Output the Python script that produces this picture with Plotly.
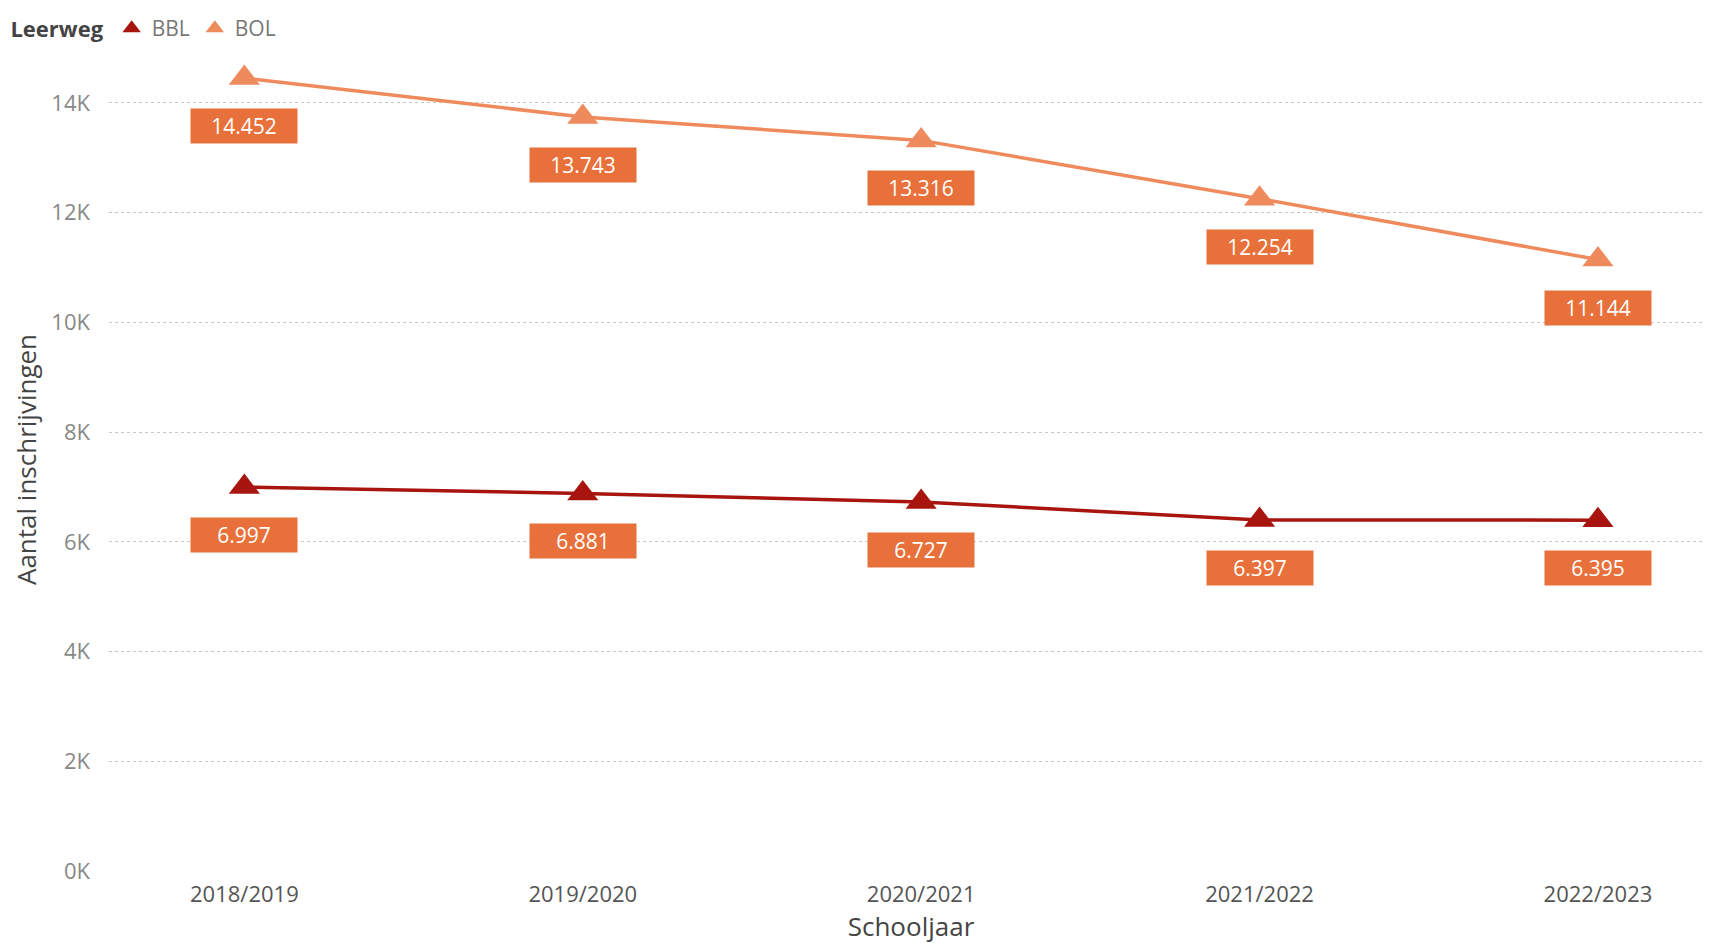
import plotly.graph_objects as go

categories = ["2018/2019", "2019/2020", "2020/2021", "2021/2022", "2022/2023"]
bbl = [6997, 6881, 6727, 6397, 6395]
bol = [14452, 13743, 13316, 12254, 11144]
ytick_vals = [0, 2000, 4000, 6000, 8000, 10000, 12000, 14000]
ytick_text = ["0K", "2K", "4K", "6K", "8K", "10K", "12K", "14K"]

C_BBL = "#A8150F"
C_BOL = "#EF8A5C"
C_LABEL = "#E8703A"
FONT = "Open Sans, Segoe UI, sans-serif"

W, H = 1713, 943
ML, MR, MT, MB = 101, 8, 40, 80

fig = go.Figure()
x_idx = list(range(len(categories)))
for name, vals, col in (("BBL", bbl, C_BBL), ("BOL", bol, C_BOL)):
    fig.add_trace(go.Scatter(x=x_idx, y=vals, name=name, mode="lines+markers",
                             line=dict(color=col, width=3.5), showlegend=False,
                             marker=dict(symbol="triangle-up", size=27, color=col)))
    fig.add_trace(go.Scatter(x=[None], y=[None], name=name, mode="markers",
                             marker=dict(symbol="triangle-up", size=20, color=col)))

def fmt(v):
    return f"{v:,}".replace(",", ".")

for series in (bbl, bol):
    for i, v in enumerate(series):
        fig.add_annotation(x=i, y=v, text=fmt(v), showarrow=False,
                           yshift=-48, bgcolor=C_LABEL, borderpad=0,
                           width=106, height=34,
                           font=dict(family=FONT, size=21, color="white"))

fig.update_layout(
    width=W, height=H,
    margin=dict(l=ML, r=MR, t=MT, b=MB, autoexpand=False),
    plot_bgcolor="white", paper_bgcolor="white",
    font=dict(family=FONT),
    showlegend=True,
    legend=dict(orientation="h", x=-0.0627, xanchor="left", y=1.0486, yanchor="top",
                title=dict(text="<b>Leerweg</b>", font=dict(size=22, color="#444")),
                font=dict(size=21, color="#777"), itemwidth=30,
                tracegroupgap=0),
    xaxis=dict(range=[-0.4, 4.34], tickvals=x_idx, ticktext=categories,
               showgrid=False, zeroline=False, showline=False, ticks="",
               automargin=False, ticklabelstandoff=8,
               tickfont=dict(size=22, color="#555"),
               title=dict(text="Schooljaar", font=dict(size=26, color="#444"), standoff=6)),
    yaxis=dict(range=[0, 15000], tickvals=ytick_vals, ticktext=ytick_text,
               showgrid=True, gridcolor="#C8C8C8", griddash="dot", gridwidth=1,
               zeroline=False, showline=False, ticks="",
               automargin=False,
               tickfont=dict(size=22, color="#888"), ticklabelstandoff=18,
               title=dict(text="Aantal inschrijvingen", font=dict(size=26, color="#444"), standoff=18)),
)

fig.write_html("out.html")
